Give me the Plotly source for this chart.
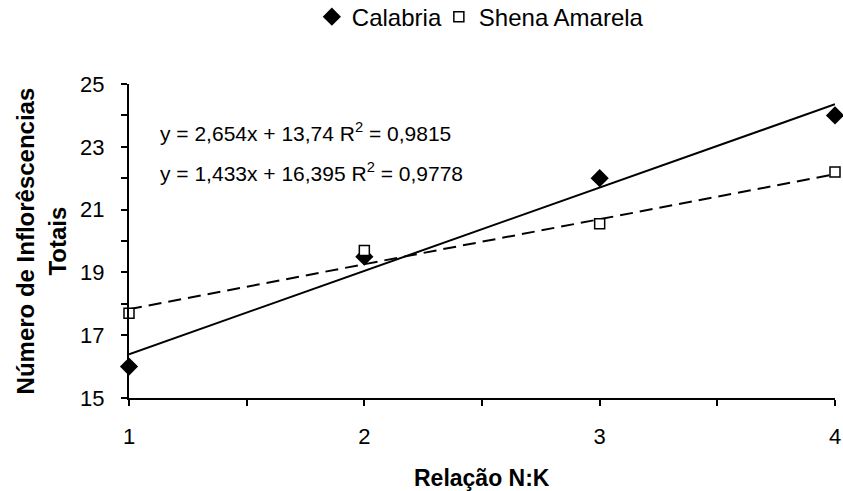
import plotly.graph_objects as go

x_vals = [1, 2, 3, 4]
calabria = [16.0, 19.5, 22.0, 24.0]
shena = [17.7, 19.7, 20.55, 22.2]

# Linear trend coefficients shown on the chart
cal_slope, cal_int, cal_r2 = 2.654, 13.74, 0.9815
she_slope, she_int, she_r2 = 1.433, 16.395, 0.9778

x_ticks = [1, 2, 3, 4]
y_ticks = [15, 17, 19, 21, 23, 25]

FONT = "Liberation Sans, Arial, sans-serif"

cal_trend = [cal_slope * x + cal_int for x in x_vals]
she_trend = [she_slope * x + she_int for x in x_vals]

fig = go.Figure()
fig.add_trace(go.Scatter(x=x_vals, y=cal_trend, mode="lines",
                         line=dict(color="black", width=2), showlegend=False, hoverinfo="skip"))
fig.add_trace(go.Scatter(x=x_vals, y=she_trend, mode="lines",
                         line=dict(color="black", width=2, dash="13px,7px"), showlegend=False, hoverinfo="skip"))
fig.add_trace(go.Scatter(x=x_vals, y=calabria, mode="markers", name="Calabria", legendwidth=82,
                         marker=dict(symbol="diamond", size=14, color="black", line=dict(width=0)),
                         cliponaxis=False))
fig.add_trace(go.Scatter(x=x_vals, y=shena, mode="markers", name="Shena Amarela", legendwidth=175,
                         marker=dict(symbol="square", size=10, color="white", line=dict(color="black", width=1.5)),
                         cliponaxis=False))

fig.update_layout(
    width=843, height=491,
    margin=dict(l=129, r=8, t=84, b=93, autoexpand=False),
    paper_bgcolor="white", plot_bgcolor="white",
    font=dict(family=FONT, size=21, color="black"),
    showlegend=True,
    legend=dict(orientation="h", x=0.259, y=1.213, xanchor="left", yanchor="middle",
                font=dict(size=24), itemwidth=30, bgcolor="rgba(0,0,0,0)"),
    xaxis=dict(range=[1, 4], tickvals=x_ticks, ticks="outside", ticklen=6, tickwidth=1.5,
               tickcolor="black", showline=True, linecolor="black", linewidth=2, automargin=False,
               showgrid=False, zeroline=False, tickfont=dict(size=22), ticklabelstandoff=12,
               ticklabeloverflow="allow",
               minor=dict(dtick=0.5, ticks="outside", ticklen=6, tickwidth=1.5, tickcolor="black",
                          showgrid=False)),
    yaxis=dict(range=[15, 25], tickvals=y_ticks, ticks="outside", ticklen=6, tickwidth=1.5,
               tickcolor="black", showline=True, linecolor="black", linewidth=2, automargin=False,
               showgrid=False, zeroline=False, tickfont=dict(size=22), ticklabelstandoff=12,
               minor=dict(dtick=1, ticks="outside", ticklen=6, tickwidth=1.5, tickcolor="black",
                          showgrid=False)),
)

fig.add_annotation(xref="paper", yref="paper", x=0.041, y=0.847, xanchor="left", yanchor="middle",
                   text=f"y = {cal_slope:.3f}x + {cal_int:.2f} R<sup>2</sup> = {cal_r2:.4f}".replace(".", ","),
                   showarrow=False, font=dict(size=21))
fig.add_annotation(xref="paper", yref="paper", x=0.041, y=0.72, xanchor="left", yanchor="middle",
                   text=f"y = {she_slope:.3f}x + {she_int:.3f} R<sup>2</sup> = {she_r2:.4f}".replace(".", ","),
                   showarrow=False, font=dict(size=21))
fig.add_annotation(xref="paper", yref="paper", x=-0.124, y=0.5, xanchor="center", yanchor="middle",
                   text="<b>Número de Inflorêscencias<br>Totais</b>", textangle=-90,
                   showarrow=False, font=dict(size=24))
fig.add_annotation(xref="paper", yref="paper", x=0.5, y=-0.255, xanchor="center", yanchor="middle",
                   text="<b>Relação N:K</b>", showarrow=False, font=dict(size=23))

fig.write_html("out.html", config={"displayModeBar": False},
               post_script="document.body.style.margin='0';document.body.style.overflow='hidden';")
